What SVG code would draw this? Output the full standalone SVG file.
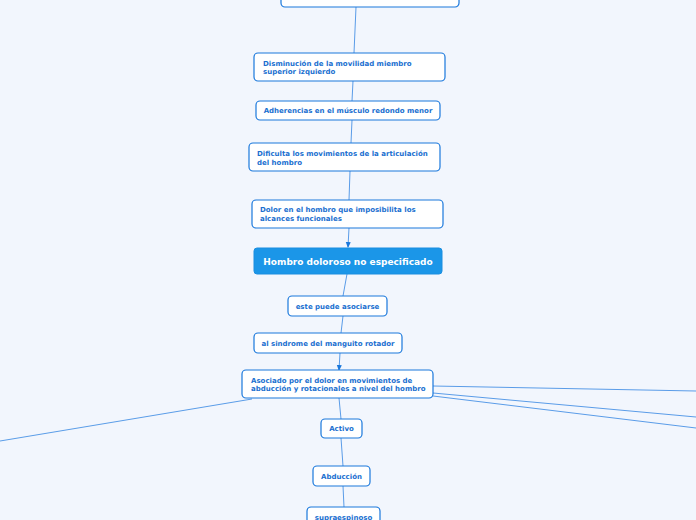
<svg xmlns="http://www.w3.org/2000/svg" width="696" height="520" viewBox="0 0 696 520">
<defs>
<style>
.n{fill:#ffffff;stroke:#1a78dc;stroke-width:1.2}
.t{font-family:"DejaVu Sans",Verdana,sans-serif;font-weight:bold;font-size:7px;fill:#1a6fd0}
.c{fill:none;stroke:#5a9ce8;stroke-width:1}
.m{fill:#1b96e8;stroke:#1b8ee0;stroke-width:1}
.mt{font-family:"DejaVu Sans",Verdana,sans-serif;font-weight:bold;font-size:9px;fill:#ffffff}
</style>
<marker id="ah" viewBox="0 0 6 6" refX="5" refY="3" markerWidth="6" markerHeight="6" orient="auto" markerUnits="userSpaceOnUse">
<path d="M0,0.5 L6,3 L0,5.5 Z" fill="#1a78dc"/>
</marker>
</defs>
<rect width="696" height="520" fill="#f2f6fd"/>
<g id="connectors">
<line class="c" x1="356" y1="7" x2="354" y2="53"/>
<line class="c" x1="353" y1="81" x2="352" y2="101"/>
<line class="c" x1="352" y1="120" x2="351" y2="143"/>
<line class="c" x1="350" y1="171" x2="349" y2="200"/>
<line class="c" x1="349" y1="228" x2="348" y2="247" marker-end="url(#ah)"/>
<line class="c" x1="347" y1="274" x2="343" y2="296"/>
<line class="c" x1="343" y1="316" x2="341" y2="333"/>
<line class="c" x1="340" y1="353" x2="339" y2="370" marker-end="url(#ah)"/>
<line class="c" x1="252" y1="399" x2="0" y2="441"/>
<line class="c" x1="433" y1="386" x2="696" y2="391"/>
<line class="c" x1="433" y1="393" x2="696" y2="417"/>
<line class="c" x1="433" y1="396" x2="696" y2="428"/>
<line class="c" x1="339" y1="398" x2="341" y2="419"/>
<line class="c" x1="341" y1="438" x2="343" y2="466"/>
<line class="c" x1="343" y1="486" x2="344" y2="507"/>
</g>
<g id="n0"><rect class="n" x="281" y="-20" width="178" height="27" rx="4"/></g>
<g id="n1"><rect class="n" x="254" y="53" width="191" height="28" rx="4"/>
<text class="t" x="263" y="65.5">Disminución de la movilidad miembro</text>
<text class="t" x="263" y="74">superior izquierdo</text></g>
<g id="n2"><rect class="n" x="256" y="101" width="184" height="19" rx="4"/>
<text class="t" x="348" y="113" text-anchor="middle">Adherencias en el músculo redondo menor</text></g>
<g id="n3"><rect class="n" x="249" y="143" width="191" height="28" rx="4"/>
<text class="t" x="257" y="156">Dificulta los movimientos de la articulación</text>
<text class="t" x="257" y="164.5">del hombro</text></g>
<g id="n4"><rect class="n" x="252" y="200" width="191" height="28" rx="4"/>
<text class="t" x="260" y="212">Dolor en el hombro que imposibilita los</text>
<text class="t" x="260" y="220.5">alcances funcionales</text></g>
<g id="n5"><rect class="m" x="254" y="248" width="188" height="26" rx="3"/>
<text class="mt" x="348" y="264.5" text-anchor="middle">Hombro doloroso no especificado</text></g>
<g id="n6"><rect class="n" x="288" y="296" width="99" height="20" rx="4"/>
<text class="t" x="337.5" y="308.5" text-anchor="middle">este puede asociarse</text></g>
<g id="n7"><rect class="n" x="254" y="333" width="148" height="20" rx="4"/>
<text class="t" x="328" y="345.5" text-anchor="middle">al sindrome del manguito rotador</text></g>
<g id="n8"><rect class="n" x="242" y="370" width="191" height="28" rx="4"/>
<text class="t" x="251" y="382.5">Asociado por el dolor en movimientos de</text>
<text class="t" x="251" y="391">abducción y rotacionales a nivel del hombro</text></g>
<g id="n9"><rect class="n" x="321" y="419" width="41" height="19" rx="4"/>
<text class="t" x="341.5" y="431" text-anchor="middle">Activo</text></g>
<g id="n10"><rect class="n" x="313" y="466" width="57" height="20" rx="4"/>
<text class="t" x="341.5" y="478.5" text-anchor="middle">Abducción</text></g>
<g id="n11"><rect class="n" x="307" y="507" width="73" height="20" rx="4"/>
<text class="t" x="343.5" y="519.5" text-anchor="middle">supraespinoso</text></g>
</svg>
